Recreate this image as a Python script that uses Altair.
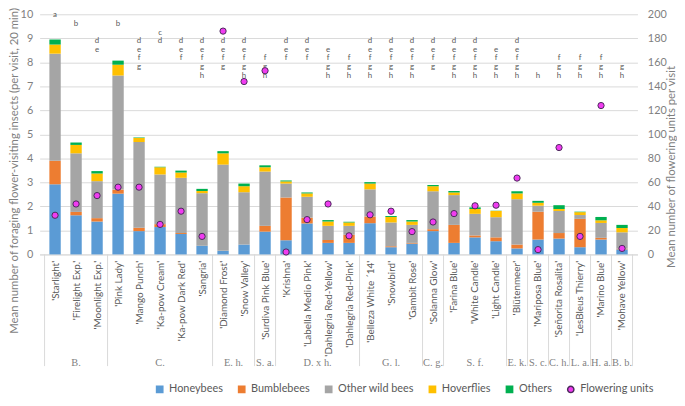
import json
import altair as alt
import pandas as pd

# ---------------- data ----------------
names = ["'Starlight'", "'Firelight Exp.'", "'Moonlight Exp.'", "'Pink Lady'", "'Mango Punch'",
         "'Ka-pow Cream'", "'Ka-pow Dark Red'", "'Sangria'", "'Diamond Frost'", "'Snow Valley'",
         "'Surdiva Pink Blue'", "'Krishna'", "'Labella Medio Pink'", "'Dahlegria Red-Yellow'",
         "'Dahlegria Red-Pink'", "'Belleza White ´14'", "'Snowbird'", "'Gambit Rose'", "'Solanna Glow'",
         "'Farina Blue'", "'White Candle'", "'Light Candle'", "'Blütenmeer'", "'Mariposa Blue'",
         "'Señorita Rosalita'", "'LesBleus Thierry'", "'Marino Blue'", "'Mohave Yellow'"]

groups = ["B.", "C.", "E. h.", "S. a.", "D. x h.", "G. l.", "C. g.", "S. f.", "E. k.", "S. c.",
          "C. h.", "L. a.", "H. a.", "B. b."]
group_sizes = [3, 5, 2, 1, 4, 3, 1, 3, 1, 1, 1, 1, 1, 1]

honeybees = [2.92, 1.63, 1.37, 2.53, 0.97, 1.14, 0.85, 0.36, 0.15, 0.41, 0.95, 0.59, 1.29, 0.48,
             0.48, 1.30, 0.30, 0.45, 0.97, 0.48, 0.71, 0.55, 0.25, 0.62, 0.66, 0.30, 0.62, 0.21]
bumblebees = [0.98, 0.14, 0.14, 0.17, 0.14, 0.12, 0.04, 0.00, 0.00, 0.00, 0.24, 1.78, 0.24, 0.12,
              0.34, 0.28, 0.04, 0.03, 0.08, 0.75, 0.08, 0.16, 0.16, 1.16, 0.23, 1.18, 0.07, 0.03]
other_wild_bees = [4.46, 2.44, 1.54, 4.75, 3.57, 2.07, 2.30, 2.19, 3.59, 2.18, 2.26, 0.58, 0.87, 0.59,
                   0.37, 1.13, 0.99, 0.75, 1.58, 1.24, 0.90, 0.84, 1.89, 0.25, 0.92, 0.16, 0.62, 0.68]
hoverflies = [0.38, 0.35, 0.32, 0.45, 0.17, 0.30, 0.22, 0.09, 0.47, 0.25, 0.18, 0.09, 0.14, 0.18,
              0.14, 0.24, 0.23, 0.14, 0.21, 0.11, 0.20, 0.26, 0.24, 0.12, 0.08, 0.12, 0.11, 0.18]
others = [0.21, 0.10, 0.10, 0.17, 0.02, 0.02, 0.08, 0.09, 0.09, 0.11, 0.08, 0.04, 0.04, 0.06,
          0.03, 0.06, 0.04, 0.06, 0.05, 0.06, 0.07, 0.01, 0.09, 0.08, 0.16, 0.02, 0.14, 0.13]
flowering_units = [32.6, 42, 49, 56, 56, 25, 36, 15, 186, 144, 153, 2, 29, 42, 15.5, 33, 36, 19,
                   27, 34, 40.5, 41, 63.6, 4, 89, 15, 124, 5]
letters = ["a", "b", "de", "b", "defg", "cd", "def", "defgh", "defg", "defgh", "fgh", "def", "def",
           "efgh", "fgh", "defgh", "defgh", "defgh", "defg", "defgh", "defgh", "efgh", "defgh", "h",
           "fgh", "fgh", "fgh", "gh"]

series_names = ["Honeybees", "Bumblebees", "Other wild bees", "Hoverflies", "Others", "Flowering units"]
series_colors = ["#5B9BD5", "#ED7D31", "#A5A5A5", "#FFC000", "#00B050", "#F03CF0"]
series_strokes = ["#5B9BD5", "#ED7D31", "#A5A5A5", "#FFC000", "#00B050", "#4A2A5A"]
series_shapes = ["square", "square", "square", "square", "square", "circle"]

y_ticks = list(range(0, 11))
y2_ticks = list(range(0, 201, 20))

# ---------------- tables ----------------
bar_rows = []
for k, vals in enumerate([honeybees, bumblebees, other_wild_bees, hoverflies, others]):
    for i, v in enumerate(vals):
        bar_rows.append({"idx": i, "series": series_names[k], "value": v, "k": k})
bars_df = pd.DataFrame(bar_rows)

dots_df = pd.DataFrame({"idx": list(range(len(names))), "flowering": flowering_units,
                        "series": "Flowering units"})

let_rows = []
for i, s in enumerate(letters):
    for c in s:
        let_rows.append({"idx": i, "letter": c, "ly": 9.96 - 0.36 * (ord(c) - ord("a"))})
let_df = pd.DataFrame(let_rows)

bounds = [-0.5]
centers = []
start = 0
for n in group_sizes:
    centers.append(start + (n - 1) / 2)
    start += n
    bounds.append(start - 0.5)
sep_df = pd.DataFrame({"idx": bounds})
grp_df = pd.DataFrame({"idx": centers, "g": groups})

# ---------------- chart ----------------
W, H = 605, 243
xscale = alt.Scale(domain=[-0.5, len(names) - 0.5], nice=False, zero=False)
yscale = alt.Scale(domain=[0, 10], nice=False)
label_expr = json.dumps(names, ensure_ascii=False) + "[datum.value]"
x_axis = alt.Axis(
    values=list(range(len(names))), labelExpr=label_expr, labelAngle=270, grid=False,
    ticks=False, domain=True, domainColor="#d9d9d9", labelColor="#595959", labelFontSize=10,
    labelPadding=6, labelOverlap=False, labelFlush=False, title=None)
X = alt.X("idx:Q", scale=xscale, axis=x_axis)

bars = alt.Chart(bars_df).mark_bar(size=11.5).encode(
    x=X,
    y=alt.Y("value:Q", stack="zero", scale=yscale, axis=alt.Axis(
        orient="left", values=y_ticks, grid=True, gridColor="#d9d9d9", domain=False, ticks=False,
        labelColor="#7f7f7f", labelFontSize=11, labelPadding=7,
        title="Mean number of foraging flower-visiting insects (per visit, 20 min)",
        titleFontSize=11.5, titleFontWeight="normal", titleColor="#7f7f7f",
        titleX=-20, titleY=158)),
    color=alt.Color("series:N", scale=alt.Scale(domain=series_names, range=series_colors),
                    legend=alt.Legend(title=None)),
    order=alt.Order("k:Q", sort="ascending"),
)

texts = alt.Chart(let_df).mark_text(fontSize=8, color="#595959", baseline="middle",
                                    align="center").encode(
    x=X,
    y=alt.Y("ly:Q", scale=yscale, axis=None),
    text="letter:N",
)

seps = alt.Chart(sep_df).mark_rule(color="#d9d9d9", strokeWidth=1).encode(
    x=X,
    y=alt.value(H),
    y2=alt.value(H + 113),
)

grp = alt.Chart(grp_df).mark_text(fontSize=10.5, font="Liberation Serif", color="#7f7f7f",
                                  baseline="middle").encode(
    x=X,
    y=alt.value(H + 110),
    text="g:N",
)

dots = alt.Chart(dots_df).mark_point(filled=True, size=40, strokeWidth=1, opacity=1).encode(
    x=X,
    y=alt.Y("flowering:Q", scale=alt.Scale(domain=[0, 200], nice=False), axis=alt.Axis(
        orient="right", values=y2_ticks, grid=False, domain=False, ticks=False,
        labelColor="#7f7f7f", labelFontSize=11, labelPadding=10,
        title="Mean number of flowering units per visit", titleFontSize=11.5,
        titleFontWeight="normal", titleColor="#7f7f7f", titleAngle=270,
        titleX=39, titleY=154)),
    color=alt.Color("series:N", scale=alt.Scale(domain=series_names, range=series_colors),
                    legend=alt.Legend(title=None)),
    shape=alt.Shape("series:N", scale=alt.Scale(domain=series_names, range=series_shapes),
                    legend=alt.Legend(title=None)),
    stroke=alt.Stroke("series:N", scale=alt.Scale(domain=series_names, range=series_strokes),
                      legend=alt.Legend(title=None)),
)

chart = alt.layer(bars, texts, seps, grp, dots).resolve_scale(y="independent").properties(
    width=W, height=H,
    padding={"left": 32, "top": 4, "right": 40, "bottom": 148},
    autosize=alt.AutoSizeParams(type="none"),
).configure(font="Lato").configure_view(stroke=None).configure_legend(
    orient="none", legendX=116, legendY=374, direction="horizontal",
    labelFontSize=11, labelColor="#595959", symbolSize=40, columnPadding=12,
    labelOffset=4,
)

chart.save("out.html", embed_options={"renderer": "svg", "actions": False})
